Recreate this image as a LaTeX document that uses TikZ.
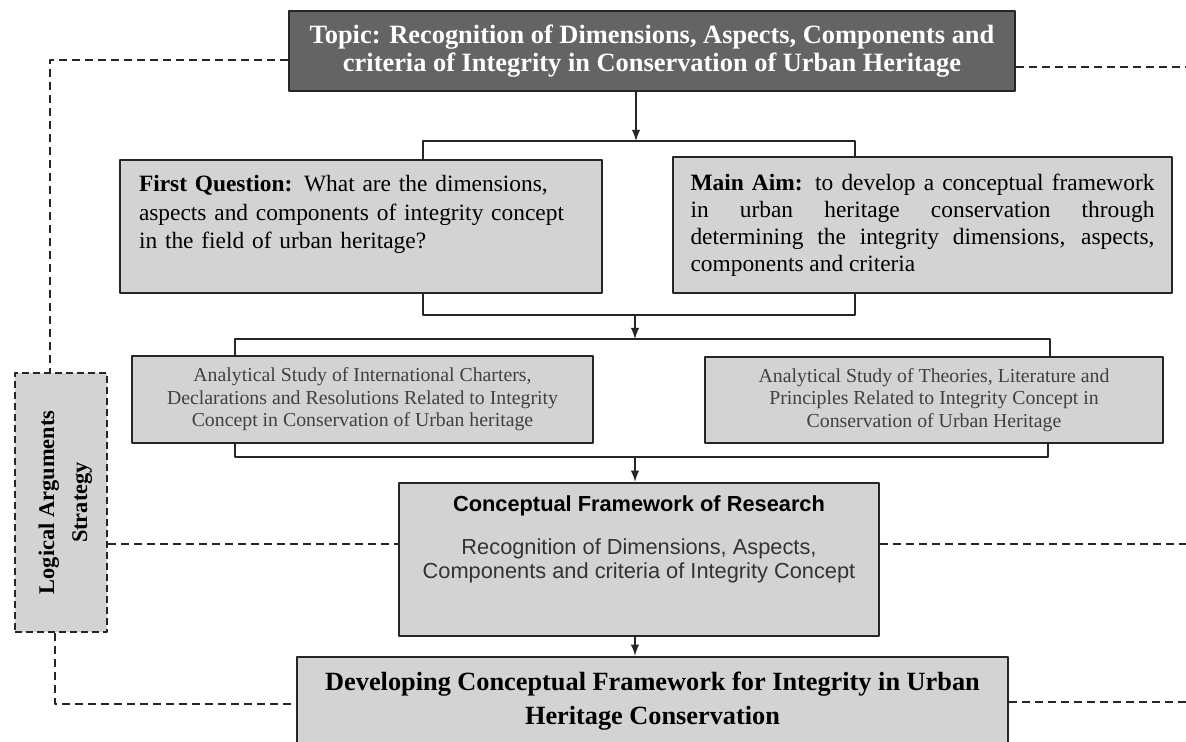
\documentclass[tikz,border=0pt]{standalone}
\usepackage{fontspec}
\setmainfont{Liberation Serif}
\setsansfont{Liberation Sans}
\definecolor{boxgray}{HTML}{D3D3D3}
\definecolor{topicgray}{HTML}{646464}
\tikzset{
  box/.style={draw=black!85, line width=1.3pt, fill=boxgray, inner sep=0pt},
  link/.style={draw=black!85, line width=0.9pt},
  dashline/.style={draw=black!85, line width=0.9pt, dash pattern=on 4pt off 2.5pt},
}
\begin{document}
\begin{tikzpicture}[x=0.5pt, y=-0.5pt, >=latex, line join=round]
	\useasboundingbox (0,0) rectangle (1186,742);
	% boxes
	\node[box, fill=topicgray, text=white, minimum width=363pt, minimum height=40pt, align=center, font=\bfseries\fontsize{13.2}{14}\selectfont] (topic) at (652,51) {Topic: Recognition of Dimensions, Aspects, Components and\\criteria of Integrity in Conservation of Urban Heritage};
	\node[box, minimum width=241pt, minimum height=66.5pt, text width=222pt, align=left, font=\fontsize{11.7}{14.25}\selectfont] (fq) at (361,226.5) {\textbf{First Question:} What are the dimensions,\\aspects and components of integrity concept\\in the field of urban heritage?\\\mbox{}};
	\node[box, minimum width=249.5pt, minimum height=68pt, align=left, font=\fontsize{11.7}{13.5}\selectfont] (ma) at (922.5,225) {\makebox[232pt][s]{\textbf{Main Aim:} to develop a conceptual framework}\\\makebox[232pt][s]{in urban heritage conservation through}\\\makebox[232pt][s]{determining the integrity dimensions, aspects,}\\components and criteria};
	\node[box, minimum width=230.5pt, minimum height=43.5pt, align=center, text=black!75, font=\fontsize{9.9}{11.25}\selectfont] (charters) at (362.5,399.5) {Analytical Study of International Charters,\\Declarations and Resolutions Related to Integrity\\Concept in Conservation of Urban heritage};
	\node[box, minimum width=229pt, minimum height=43pt, align=center, text=black!75, font=\fontsize{9.9}{11.25}\selectfont] (theories) at (934,400) {Analytical Study of Theories, Literature and\\Principles Related to Integrity Concept in\\Conservation of Urban Heritage};
	\node[box, minimum width=240pt, minimum height=76.5pt] (cf) at (639,559.5) {};
	\node[anchor=north, inner sep=0pt, align=center, text=black!80, font=\sffamily\fontsize{10.9}{12}\selectfont] (cftext) at ([yshift=-7pt]cf.north) {\textcolor{black}{\bfseries Conceptual Framework of Research}\\[9.5pt]Recognition of Dimensions, Aspects,\\Components and criteria of Integrity Concept};
	\node[box, minimum width=355.5pt, minimum height=44.5pt, align=center, font=\bfseries\fontsize{13.15}{17}\selectfont] (dev) at (652.5,701.5) {Developing Conceptual Framework for Integrity in Urban\\Heritage Conservation};
	\node[box, draw=black!85, dash pattern=on 3.5pt off 2pt, line width=1pt, minimum width=46pt, minimum height=129.5pt, font=\bfseries\fontsize{11.2}{11.5}\selectfont] (lgc) at (61,502.5) {\hspace{5pt}\rotatebox{90}{\begin{tabular}{@{}c@{}}Logical Arguments\\[5pt]Strategy\end{tabular}}};
	% bracket points
	\coordinate (fork1) at (636,141);
	\coordinate (brA) at (423,141);
	\coordinate (brB) at (855,141);
	\coordinate (brC) at (423,315);
	\coordinate (brD) at (855,315);
	\coordinate (fork2) at (635,315);
	\coordinate (fork3) at (635,339);
	\coordinate (brE) at (235,339);
	\coordinate (brF) at (1050,339);
	\coordinate (brG) at (235,457);
	\coordinate (brH) at (1048,457);
	\coordinate (fork4) at (635,457);
	% solid connectors
	\draw[link, ->] (topic.south -| fork1) -- (fork1);
	\draw[link] (fq.north -| brA) -- (brA) -- (brB) -- (ma.north -| brB);
	\draw[link] (fq.south -| brC) -- (brC) -- (brD) -- (ma.south -| brD);
	\draw[link, ->] (fork2) -- (fork3);
	\draw[link] (charters.north -| brE) -- (brE) -- (brF) -- (theories.north -| brF);
	\draw[link] (charters.south -| brG) -- (brG) -- (brH) -- (theories.south -| brH);
	\draw[link, ->] (fork4) -- (cf.north -| fork4);
	\draw[link, ->] (cf.south -| fork4) -- (dev.north -| fork4);
	% dashed strategy lines
	\coordinate (lgcTop) at (50,60);
	\coordinate (lgcBot) at (55,704);
	\coordinate (midline) at (0,544);
	\coordinate (edgeR1) at (1186,67);
	\coordinate (edgeR2) at (1186,544);
	\coordinate (edgeR3) at (1186,702);
	\draw[dashline] (topic.west |- lgcTop) -- (lgcTop) -- (lgc.north -| lgcTop);
	\draw[dashline] (topic.east |- edgeR1) -- (edgeR1);
	\draw[dashline] (lgc.east |- midline) -- (cf.west |- midline);
	\draw[dashline] (cf.east |- midline) -- (edgeR2);
	\draw[dashline] (lgc.south -| lgcBot) -- (lgcBot) -- (dev.west |- lgcBot);
	\draw[dashline] (dev.east |- edgeR3) -- (edgeR3);
\end{tikzpicture}
\end{document}
